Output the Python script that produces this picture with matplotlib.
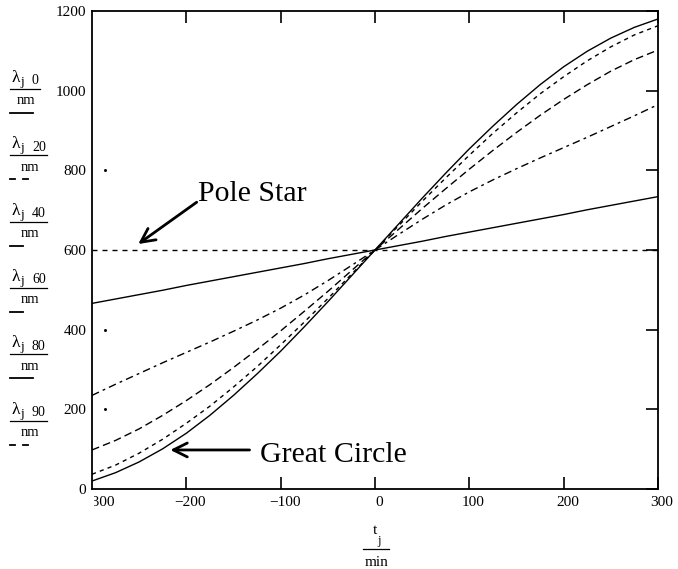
import matplotlib
matplotlib.use("Agg")
import matplotlib.pyplot as plt
from matplotlib.lines import Line2D
from matplotlib.transforms import ScaledTranslation, Bbox, blended_transform_factory

plt.rcParams['font.family'] = ['Liberation Serif', 'DejaVu Serif']

# hour angle t_j in minutes
t_min = [-300, -275, -250, -225, -200, -175, -150, -125, -100, -75, -50, -25, 0,
         25, 50, 75, 100, 125, 150, 175, 200, 225, 250, 275, 300]

# lambda_j,dec / nm for declinations 0, 20, 40, 60, 80, 90 degrees
lam_0 = [20, 41, 68, 101, 140, 185, 235, 289, 346, 407, 470, 535, 600,
         665, 730, 793, 854, 911, 965, 1015, 1060, 1099, 1132, 1159, 1180]
lam_20 = [37, 60, 90, 125, 165, 208, 256, 307, 362, 419, 478, 539, 600,
          661, 722, 781, 838, 893, 944, 992, 1035, 1075, 1110, 1140, 1163]
lam_40 = [98, 122, 151, 185, 222, 262, 305, 350, 397, 446, 496, 548, 600,
          652, 704, 754, 803, 850, 895, 938, 978, 1015, 1049, 1078, 1102]
lam_60 = [235, 263, 290, 317, 343, 369, 396, 424, 454, 487, 523, 561, 600,
          639, 677, 713, 746, 776, 804, 831, 857, 883, 910, 937, 965]
lam_80 = [466, 477, 488, 499, 511, 522, 533, 544, 555, 566, 578, 589, 600,
          611, 622, 634, 645, 656, 667, 678, 689, 701, 712, 723, 734]
lam_90 = [600, 600, 600, 600, 600, 600, 600, 600, 600, 600, 600, 600, 600,
          600, 600, 600, 600, 600, 600, 600, 600, 600, 600, 600, 600]

x_ticks = [-200, -100, 0, 100, 200, 300]
y_ticks = [0, 200, 400, 600, 800, 1000, 1200]
legend_subs = ["0", "20", "40", "60", "80", "90"]

W, H = 678, 569
fig = plt.figure(figsize=(W / 100, H / 100), dpi=100)


def fx(x):
    return x / W


def fy(y):
    return 1 - y / H


ax = fig.add_axes([fx(92), fy(489), 566 / W, 478 / H])
ax.set_xlim(-300, 300)
ax.set_ylim(0, 1200)

lw = 1.0
ax.plot(t_min, lam_0, color='black', lw=lw, solid_joinstyle='round')
ax.plot(t_min, lam_20, color='black', lw=lw, dashes=(3, 3))
ax.plot(t_min, lam_40, color='black', lw=lw, dashes=(5.5, 3))
ax.plot(t_min, lam_60, color='black', lw=lw, dashes=(5.5, 3, 2, 3))
ax.plot(t_min, lam_80, color='black', lw=lw)
ax.plot(t_min, lam_90, color='black', lw=lw, dashes=(3.6, 3.6))

for s in ax.spines.values():
    s.set_linewidth(1.3)

ax.set_xticks(x_ticks)
ax.set_xticklabels([str(v).replace('-', '\u2212') for v in x_ticks])
ax.tick_params(axis='x', direction='in', length=8.5, width=1.2, top=True,
               bottom=True, labelsize=11, pad=5)
ax.set_yticks(y_ticks)
ax.set_yticklabels([str(v) for v in y_ticks])
ax.tick_params(axis='y', direction='in', length=8.5, width=1.2, left=False,
               right=True, labelleft=True, labelsize=11, pad=4)
for lab in ax.get_xticklabels():
    lab.set_transform(lab.get_transform() + ScaledTranslation(4 / 100, 0, fig.dpi_scale_trans))

# clipped label at the left end of the time axis
lbl = fig.text(fx(98.5), fy(503), "\u2212300", ha='center', va='center', fontsize=11)
lbl.set_clip_box(Bbox.from_extents(93.5, 0, 400, H))
lbl.set_clip_on(True)

# faint left-side tick points
bt = blended_transform_factory(ax.transAxes, ax.transData)
ax.plot([0.023] * 3, [200, 400, 800], ls='none', marker='s', ms=1.0,
        color='black', transform=bt)

# annotations
ax.annotate('', xy=(-251, 615), xytext=(-189, 720),
            arrowprops=dict(arrowstyle='->,head_length=0.5,head_width=0.25',
                            lw=2.0, color='black', mutation_scale=20,
                            shrinkA=0, shrinkB=0))
ax.text(-188, 723, "Pole Star", fontsize=21.5, ha='left', va='baseline')
ax.annotate('', xy=(-217, 98), xytext=(-133, 98),
            arrowprops=dict(arrowstyle='->,head_length=0.5,head_width=0.25',
                            lw=2.0, color='black', mutation_scale=20,
                            shrinkA=0, shrinkB=0))
ax.text(-122, 68, "Great Circle", fontsize=21.5, ha='left', va='baseline')

# stacked y-axis labels with their trace samples
samples = [
    [(10, 33)],
    [(10, 15), (23, 28)],
    [(10, 23)],
    [(10, 23)],
    [(10, 33)],
    [(10, 15), (23, 28)],
]
for i, sub in enumerate(legend_subs):
    dy = 66.3 * i
    bar_end = 40 if len(sub) == 1 else 47
    fig.text(fx(11), fy(78 + dy), "\u03bb", fontsize=12.5, ha='left', va='center')
    fig.text(fx(20), fy(82 + dy), "j", fontsize=9.5, ha='left', va='center')
    fig.text(fx(32), fy(81 + dy), sub, fontsize=10, ha='left', va='center')
    fig.add_artist(Line2D([fx(10), fx(bar_end)], [fy(89 + dy), fy(89 + dy)],
                          color='black', lw=0.9))
    fig.text(fx((10 + bar_end) / 2 + 1), fy(101 + dy), "nm", fontsize=10.5,
             ha='center', va='center')
    for a, b in samples[i]:
        fig.add_artist(Line2D([fx(a), fx(b)], [fy(113 + dy), fy(113 + dy)],
                              color='black', lw=1.3))

# x-axis label as a fraction
fig.text(fx(374.5), fy(534.5), "t", fontsize=11, ha='center', va='baseline')
fig.text(fx(379.5), fy(544), "j", fontsize=9, ha='center', va='baseline')
fig.add_artist(Line2D([fx(363), fx(389)], [fy(548.5), fy(548.5)], color='black', lw=0.9))
fig.text(fx(377), fy(566.5), "min", fontsize=11, ha='center', va='baseline')

fig.savefig("out.png", dpi=100)
